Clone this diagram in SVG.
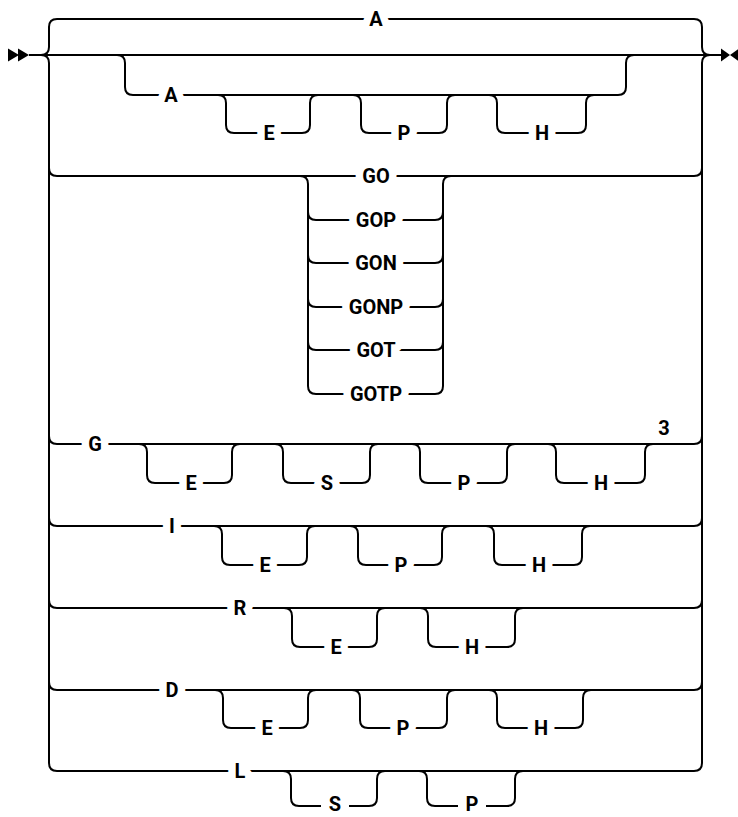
<svg xmlns="http://www.w3.org/2000/svg" width="738" height="817" viewBox="0 0 738 817">
<style>
.ln{fill:none;stroke:#000;stroke-width:2}
.ar{fill:#000;stroke:none}
.lb{font-family:Roboto,"Liberation Sans",sans-serif;font-weight:700;font-size:20px;text-anchor:middle;fill:#000;stroke:#fff;stroke-width:15px;stroke-linejoin:round;paint-order:stroke}
.nt{font-family:Roboto,"Liberation Sans",sans-serif;font-weight:700;font-size:20px;text-anchor:middle;fill:#000}
.gap{fill:#fff;stroke:none}
</style>
<rect width="738" height="817" fill="#fff"/>
<g id="connectors">
<polygon class="ar" points="8,48.5 19,55 8,61.5"/>
<polygon class="ar" points="18,48.5 29,55 18,61.5"/>
<polygon class="ar" points="721,48.5 730,55 721,61.5"/>
<polygon class="ar" points="739,48.5 730,55 739,61.5"/>
<path class="ln" d="M29,55 H722"/>
<path class="ln" d="M41,55 Q49,55 49,47 V27 Q49,19 57,19 H694 Q702,19 702,27 V47 Q702,55 710,55"/>
<path class="ln" d="M41,55 Q49,55 49,63 V763 Q49,771 57,771 H694 Q702,771 702,763 V63 Q702,55 710,55"/>
<!-- row 2 -->
<path class="ln" d="M117,55 Q125,55 125,63 V87 Q125,95 133,95 H618 Q626,95 626,87 V63 Q626,55 634,55"/>
<path class="ln" d="M218,95 Q226,95 226,103 V125 Q226,133 234,133 H302 Q310,133 310,125 V103 Q310,95 318,95"/>
<path class="ln" d="M353,95 Q361,95 361,103 V125 Q361,133 369,133 H439 Q447,133 447,125 V103 Q447,95 455,95"/>
<path class="ln" d="M489,95 Q497,95 497,103 V125 Q497,133 505,133 H578 Q586,133 586,125 V103 Q586,95 594,95"/>
<!-- GO row -->
<path class="ln" d="M49,168 Q49,176 57,176 H694 Q702,176 702,168"/>
<path class="ln" d="M300,176 Q308,176 308,184 V386 Q308,394 316,394 H435 Q443,394 443,386 V184 Q443,176 451,176"/>
<path class="ln" d="M308,212 Q308,220 316,220 H435 Q443,220 443,212"/>
<path class="ln" d="M308,255 Q308,263 316,263 H435 Q443,263 443,255"/>
<path class="ln" d="M308,299 Q308,307 316,307 H435 Q443,307 443,299"/>
<path class="ln" d="M308,342 Q308,350 316,350 H435 Q443,350 443,342"/>
<!-- G row -->
<path class="ln" d="M49,436 Q49,444 57,444 H694 Q702,444 702,436"/>
<path class="ln" d="M139,444 Q147,444 147,452 V475 Q147,483 155,483 H224 Q232,483 232,475 V452 Q232,444 240,444"/>
<path class="ln" d="M275,444 Q283,444 283,452 V475 Q283,483 291,483 H362 Q370,483 370,475 V452 Q370,444 378,444"/>
<path class="ln" d="M412,444 Q420,444 420,452 V475 Q420,483 428,483 H499 Q507,483 507,475 V452 Q507,444 515,444"/>
<path class="ln" d="M548,444 Q556,444 556,452 V475 Q556,483 564,483 H637 Q645,483 645,475 V452 Q645,444 653,444"/>
<!-- I row -->
<path class="ln" d="M49,518 Q49,526 57,526 H694 Q702,526 702,518"/>
<path class="ln" d="M214,526 Q222,526 222,534 V557 Q222,565 230,565 H299 Q307,565 307,557 V534 Q307,526 315,526"/>
<path class="ln" d="M350,526 Q358,526 358,534 V557 Q358,565 366,565 H434 Q442,565 442,557 V534 Q442,526 450,526"/>
<path class="ln" d="M486,526 Q494,526 494,534 V557 Q494,565 502,565 H574 Q582,565 582,557 V534 Q582,526 590,526"/>
<!-- R row -->
<path class="ln" d="M49,600 Q49,608 57,608 H694 Q702,608 702,600"/>
<path class="ln" d="M284,608 Q292,608 292,616 V639 Q292,647 300,647 H369 Q377,647 377,639 V616 Q377,608 385,608"/>
<path class="ln" d="M420,608 Q428,608 428,616 V639 Q428,647 436,647 H507 Q515,647 515,639 V616 Q515,608 523,608"/>
<!-- D row -->
<path class="ln" d="M49,682 Q49,690 57,690 H694 Q702,690 702,682"/>
<path class="ln" d="M215,690 Q223,690 223,698 V720 Q223,728 231,728 H300 Q308,728 308,720 V698 Q308,690 316,690"/>
<path class="ln" d="M352,690 Q360,690 360,698 V720 Q360,728 368,728 H439 Q447,728 447,720 V698 Q447,690 455,690"/>
<path class="ln" d="M489,690 Q497,690 497,698 V720 Q497,728 505,728 H575 Q583,728 583,720 V698 Q583,690 591,690"/>
<!-- L row -->
<path class="ln" d="M283,771 Q291,771 291,779 V798 Q291,806 299,806 H369 Q377,806 377,798 V779 Q377,771 385,771"/>
<path class="ln" d="M419,771 Q427,771 427,779 V798 Q427,806 435,806 H507 Q515,806 515,798 V779 Q515,771 523,771"/>
<rect class="gap" x="321" y="801" width="28" height="10"/>
<rect class="gap" x="458" y="801" width="28" height="10"/>
</g>
<g id="n-top-A"><text class="lb" x="376" y="26">A</text></g>
<g id="n-A"><text class="lb" x="171" y="102">A</text></g>
<g id="n-A-E"><text class="lb" x="269" y="140">E</text></g>
<g id="n-A-P"><text class="lb" x="404" y="140">P</text></g>
<g id="n-A-H"><text class="lb" x="542" y="140">H</text></g>
<g id="n-GO"><text class="lb" x="376" y="183">GO</text></g>
<g id="n-GOP"><text class="lb" x="376" y="227">GOP</text></g>
<g id="n-GON"><text class="lb" x="376" y="270">GON</text></g>
<g id="n-GONP"><text class="lb" x="376" y="314">GONP</text></g>
<g id="n-GOT"><text class="lb" x="376" y="357">GOT</text></g>
<g id="n-GOTP"><text class="lb" x="376" y="401">GOTP</text></g>
<g id="n-G"><text class="lb" x="95" y="451">G</text></g>
<g id="n-G-E"><text class="lb" x="191" y="490">E</text></g>
<g id="n-G-S"><text class="lb" x="327" y="490">S</text></g>
<g id="n-G-P"><text class="lb" x="464" y="490">P</text></g>
<g id="n-G-H"><text class="lb" x="601" y="490">H</text></g>
<g id="n-note3"><text class="nt" x="664" y="435">3</text></g>
<g id="n-I"><text class="lb" x="172" y="533">I</text></g>
<g id="n-I-E"><text class="lb" x="265" y="572">E</text></g>
<g id="n-I-P"><text class="lb" x="401" y="572">P</text></g>
<g id="n-I-H"><text class="lb" x="539" y="572">H</text></g>
<g id="n-R"><text class="lb" x="240" y="615">R</text></g>
<g id="n-R-E"><text class="lb" x="336" y="654">E</text></g>
<g id="n-R-H"><text class="lb" x="472" y="654">H</text></g>
<g id="n-D"><text class="lb" x="172" y="697">D</text></g>
<g id="n-D-E"><text class="lb" x="267" y="735">E</text></g>
<g id="n-D-P"><text class="lb" x="403" y="735">P</text></g>
<g id="n-D-H"><text class="lb" x="541" y="735">H</text></g>
<g id="n-L"><text class="lb" x="240" y="778">L</text></g>
<g id="n-L-S"><text class="nt" x="335" y="811">S</text></g>
<g id="n-L-P"><text class="nt" x="472" y="811">P</text></g>
</svg>
